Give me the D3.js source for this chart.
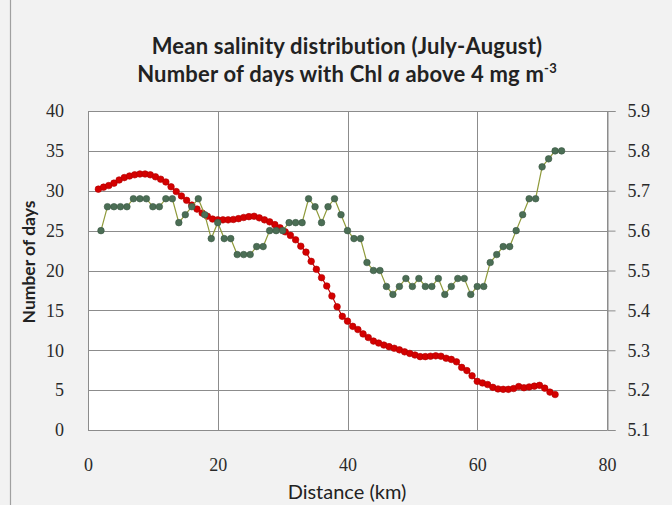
<!DOCTYPE html>
<html>
<head>
<meta charset="utf-8">
<script src="https://cdn.jsdelivr.net/npm/d3@7"></script>
<style>
  html, body { margin: 0; padding: 0; background: #f2f2f2; }
  svg { display: block; }
</style>
</head>
<body>
<svg id="chart" width="672" height="505"></svg>
<script>
// Chlorophyll a: number of days above 4 mg m-3 along the transect
const daysDistance = [2,3,4,5,6,7,8,9,10,11,12,13,14,15,16,17,18,19,20,21,22,23,24,25,26,27,28,29,30,31,32,33,34,35,36,37,38,39,40,41,42,43,44,45,46,47,48,49,50,51,52,53,54,55,56,57,58,59,60,61,62,63,64,65,66,67,68,69,70,71,72,73];
const daysValues = [25,28,28,28,28,29,29,29,28,28,29,29,26,27,28,29,27,24,26,24,24,22,22,22,23,23,25,25,25,26,26,26,29,28,26,28,29,27,25,24,24,21,20,20,18,17,18,19,18,19,18,18,19,17,18,19,19,17,18,18,21,22,23,23,25,27,29,29,33,34,35,35];

// Mean salinity (July-August) along the transect
const salinityDistance = [1.6,2.4,3.2,4.0,4.8,5.6,6.4,7.2,8.0,8.8,9.6,10.4,11.2,12.0,12.8,13.6,14.4,15.2,16.0,16.8,17.6,18.4,19.2,20.0,20.8,21.6,22.4,23.2,24.0,24.8,25.6,26.4,27.2,28.0,28.8,29.6,30.4,31.2,32.0,32.8,33.6,34.4,35.2,36.0,36.8,37.6,38.4,39.2,40.0,40.8,41.6,42.4,43.2,44.0,44.8,45.6,46.4,47.2,48.0,48.8,49.6,50.4,51.2,52.0,52.8,53.6,54.4,55.2,56.0,56.8,57.6,58.4,59.2,60.0,60.8,61.6,62.4,63.2,64.0,64.8,65.6,66.4,67.2,68.0,68.8,69.6,70.4,71.2,72.0];
const salinityValues = [5.704,5.709,5.713,5.719,5.727,5.733,5.737,5.740,5.742,5.742,5.740,5.735,5.729,5.722,5.710,5.698,5.687,5.676,5.664,5.654,5.644,5.636,5.629,5.627,5.627,5.627,5.628,5.630,5.633,5.635,5.636,5.632,5.627,5.622,5.615,5.607,5.597,5.588,5.577,5.561,5.546,5.523,5.503,5.482,5.461,5.436,5.409,5.385,5.373,5.360,5.352,5.341,5.332,5.323,5.318,5.313,5.309,5.305,5.301,5.296,5.292,5.288,5.284,5.284,5.285,5.286,5.285,5.280,5.277,5.271,5.257,5.249,5.236,5.222,5.218,5.214,5.207,5.203,5.202,5.202,5.204,5.209,5.206,5.208,5.210,5.212,5.205,5.195,5.189];

const xTicks = [0, 20, 40, 60, 80];
const leftTicks = [0, 5, 10, 15, 20, 25, 30, 35, 40];
const rightTicks = [5.1, 5.2, 5.3, 5.4, 5.5, 5.6, 5.7, 5.8, 5.9];

const svg = d3.select("#chart");
const W = 672, H = 505;
const plot = { left: 88, right: 607, top: 111, bottom: 430 };

const x = d3.scaleLinear().domain([0, 80]).range([plot.left, plot.right]);
const yDays = d3.scaleLinear().domain([0, 40]).range([plot.bottom, plot.top]);
const ySal = d3.scaleLinear().domain([5.1, 5.9]).range([plot.bottom, plot.top]);

// chart area background and frame
svg.append("rect").attr("x", 0).attr("y", 0).attr("width", W).attr("height", H).attr("fill", "#f2f2f2");
svg.append("rect").attr("x", 10.5).attr("y", -5).attr("width", 700).attr("height", 520)
  .attr("fill", "#f2f2f2").attr("stroke", "#a0a0a0").attr("stroke-width", 1.2);

// plot area
svg.append("rect").attr("x", plot.left).attr("y", plot.top)
  .attr("width", plot.right - plot.left).attr("height", plot.bottom - plot.top)
  .attr("fill", "#ffffff");

const gridColor = "#8c8c8c";

// horizontal gridlines
svg.append("g").selectAll("line").data(leftTicks).join("line")
  .attr("x1", plot.left).attr("x2", plot.right)
  .attr("y1", d => Math.round(yDays(d)) + 0.5).attr("y2", d => Math.round(yDays(d)) + 0.5)
  .attr("stroke", gridColor).attr("stroke-width", 1);

// vertical gridlines
svg.append("g").selectAll("line").data(xTicks).join("line")
  .attr("x1", d => Math.round(x(d)) + 0.5).attr("x2", d => Math.round(x(d)) + 0.5)
  .attr("y1", plot.top).attr("y2", plot.bottom)
  .attr("stroke", gridColor).attr("stroke-width", 1);

const tickFont = "'Liberation Serif', 'DejaVu Serif', serif";
const tickColor = "#2a2a2a";

// left axis labels
const leftAxis = d3.axisLeft(yDays).tickValues(leftTicks).tickSize(0).tickPadding(24);
const gl = svg.append("g").attr("transform", `translate(${plot.left},0)`).call(leftAxis);
gl.select(".domain").attr("stroke", gridColor);
gl.selectAll("text").attr("font-family", tickFont).attr("font-size", 18).attr("fill", tickColor);

// right axis with outward ticks
const rightAxis = d3.axisRight(ySal).tickValues(rightTicks).tickSize(8).tickPadding(12)
  .tickFormat(d3.format(".1f"));
const gr = svg.append("g").attr("transform", `translate(${plot.right + 0.5},0)`).call(rightAxis);
gr.select(".domain").attr("stroke", gridColor);
gr.selectAll("line").attr("stroke", gridColor);
gr.selectAll("text").attr("font-family", tickFont).attr("font-size", 18).attr("fill", tickColor);

// bottom axis labels
const bottomAxis = d3.axisBottom(x).tickValues(xTicks).tickSize(0).tickPadding(28);
const gb = svg.append("g").attr("transform", `translate(0,${plot.bottom})`).call(bottomAxis);
gb.select(".domain").attr("stroke", gridColor);
gb.selectAll("text").attr("font-family", tickFont).attr("font-size", 18).attr("fill", tickColor);

// salinity series
const salPts = salinityDistance.map((d, i) => [d, salinityValues[i]]);
svg.append("path").datum(salPts)
  .attr("fill", "none").attr("stroke", "#c00000").attr("stroke-width", 1.2)
  .attr("d", d3.line().x(d => x(d[0])).y(d => ySal(d[1])));
svg.append("g").selectAll("circle").data(salPts).join("circle")
  .attr("cx", d => x(d[0])).attr("cy", d => ySal(d[1])).attr("r", 3.3)
  .attr("fill", "#d40000").attr("stroke", "#b00000").attr("stroke-width", 0.6);

// chlorophyll days series
const dayPts = daysDistance.map((d, i) => [d, daysValues[i]]);
svg.append("path").datum(dayPts)
  .attr("fill", "none").attr("stroke", "#8f9a3a").attr("stroke-width", 1.2)
  .attr("d", d3.line().x(d => x(d[0])).y(d => yDays(d[1])));
svg.append("g").selectAll("circle").data(dayPts).join("circle")
  .attr("cx", d => x(d[0])).attr("cy", d => yDays(d[1])).attr("r", 3.3)
  .attr("fill", "#4b6e55").attr("stroke", "#3a5843").attr("stroke-width", 0.6);

// titles
const titleFont = "Lato, 'Open Sans', sans-serif";
svg.append("text").attr("x", 347).attr("y", 54).attr("text-anchor", "middle")
  .attr("font-family", titleFont).attr("font-weight", "bold").attr("font-size", 22)
  .attr("letter-spacing", 0.2).attr("fill", "#222")
  .text("Mean salinity distribution (July-August)");
const t2 = svg.append("text").attr("x", 347).attr("y", 82).attr("text-anchor", "middle")
  .attr("font-family", titleFont).attr("font-weight", "bold").attr("font-size", 22)
  .attr("letter-spacing", 0.2).attr("fill", "#222");
t2.append("tspan").text("Number of days with Chl ");
t2.append("tspan").attr("font-style", "italic").text("a");
t2.append("tspan").text(" above 4 mg m");
t2.append("tspan").attr("font-size", 13).attr("dy", -9).text("-3");

svg.append("text").attr("transform", "translate(35,262) rotate(-90)").attr("text-anchor", "middle")
  .attr("font-family", titleFont).attr("font-weight", "bold").attr("font-size", 17.5).attr("fill", "#222")
  .text("Number of days");
svg.append("text").attr("x", 347).attr("y", 499).attr("text-anchor", "middle")
  .attr("font-family", titleFont).attr("font-size", 20).attr("fill", "#222")
  .text("Distance (km)");
</script>
</body>
</html>
